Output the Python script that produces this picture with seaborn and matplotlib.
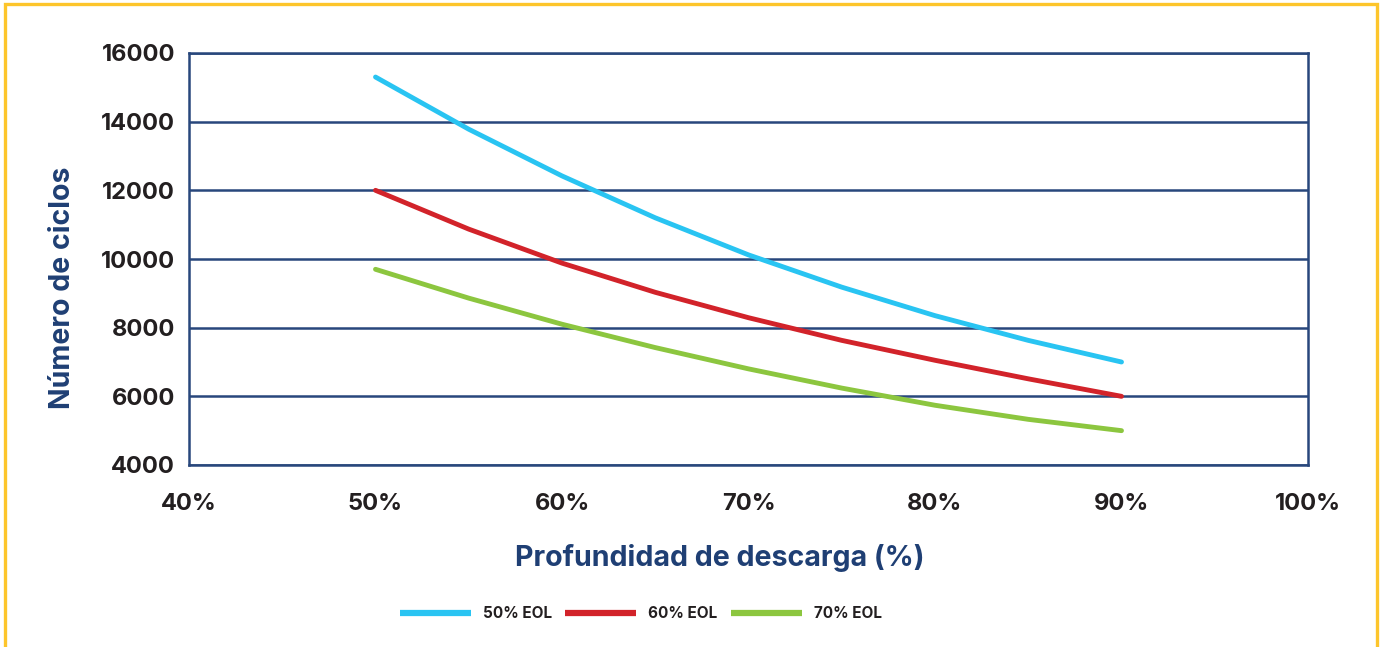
import matplotlib
matplotlib.use("Agg")
import matplotlib.pyplot as plt
from matplotlib.patches import Rectangle
from matplotlib.ticker import FuncFormatter
import pandas as pd
import seaborn as sns

# Depth of discharge (%) and cycle life for each end-of-life criterion
profundidad = [50, 55, 60, 65, 70, 75, 80, 85, 90]
eol_50 = [15300, 13780, 12420, 11200, 10120, 9180, 8350, 7630, 7000]
eol_60 = [12000, 10870, 9880, 9030, 8290, 7630, 7050, 6510, 6000]
eol_70 = [9700, 8860, 8100, 7420, 6800, 6240, 5740, 5330, 5000]
series_names = ["50% EOL", "60% EOL", "70% EOL"]
x_ticks = [40, 50, 60, 70, 80, 90, 100]
y_ticks = [4000, 6000, 8000, 10000, 12000, 14000, 16000]

NAVY = "#28477C"
LABEL_NAVY = "#1F3F74"
TEXT = "#231F20"
palette = {"50% EOL": "#29C4F2", "60% EOL": "#D2232A", "70% EOL": "#8CC63F"}

df = pd.concat([
    pd.DataFrame({"Profundidad": profundidad, "Ciclos": vals, "Serie": name})
    for name, vals in zip(series_names, [eol_50, eol_60, eol_70])
])

sns.set_theme(style="white")
plt.rcParams["font.family"] = ["Inter", "DejaVu Sans"]
plt.rcParams["font.weight"] = "bold"

fig = plt.figure(figsize=(13.84, 6.47), dpi=100)
ax = fig.add_axes([189 / 1384, 1 - 465 / 647, (1308 - 189) / 1384, (465 - 53) / 647])

sns.lineplot(data=df, x="Profundidad", y="Ciclos", hue="Serie", palette=palette,
             hue_order=series_names, linewidth=3.5, ax=ax, legend=False,
             solid_capstyle="round", solid_joinstyle="round")

ax.set_xlim(40, 100)
ax.set_ylim(4000, 16000)
ax.set_xticks(x_ticks)
ax.set_yticks(y_ticks)
ax.xaxis.set_major_formatter(FuncFormatter(lambda v, p: f"{int(v)}%"))
ax.tick_params(axis="x", direction="out", length=6, width=1.8, color=NAVY,
               pad=14, labelsize=17, labelcolor=TEXT)
ax.tick_params(axis="y", length=0, pad=10, labelsize=17, labelcolor=TEXT)
for lab in ax.get_xticklabels() + ax.get_yticklabels():
    lab.set_fontweight("bold")

ax.grid(axis="y", color=NAVY, linewidth=1.8)
ax.grid(axis="x", visible=False)
ax.set_axisbelow(True)
for sp in ax.spines.values():
    sp.set_visible(True)
    sp.set_color(NAVY)
    sp.set_linewidth(1.8)

ax.set_xlabel("")
ax.set_ylabel("")
fig.text(62 / 1384, 1 - 288 / 647, "Número de ciclos", rotation=90, ha="center",
         va="center", fontsize=20.5, fontweight="bold", color=LABEL_NAVY)
fig.text(720 / 1384, 1 - 558 / 647, "Profundidad de descarga (%)", ha="center",
         va="center", fontsize=20.6, fontweight="bold", color=LABEL_NAVY)

# Legend built from the plotted lines
handles = ax.get_lines()[:3]
leg = fig.legend(handles, series_names, loc="center", ncol=3,
                 bbox_to_anchor=(641 / 1384, 1 - 614 / 647), frameon=False,
                 handlelength=4.65, handletextpad=0.78, columnspacing=0.85,
                 prop={"size": 11, "weight": "bold"})
for t in leg.get_texts():
    t.set_color(TEXT)
for h in leg.legend_handles:
    h.set_linewidth(4.5)
    h.set_solid_capstyle("butt")

# Yellow frame around the figure
fig.patches.append(Rectangle((5 / 1384, -0.05), (1377 - 5) / 1384, 1.05 - 4 / 647,
                             transform=fig.transFigure, fill=False,
                             edgecolor="#FDC52B", linewidth=2.4, zorder=10))

fig.savefig("out.png", dpi=100)
